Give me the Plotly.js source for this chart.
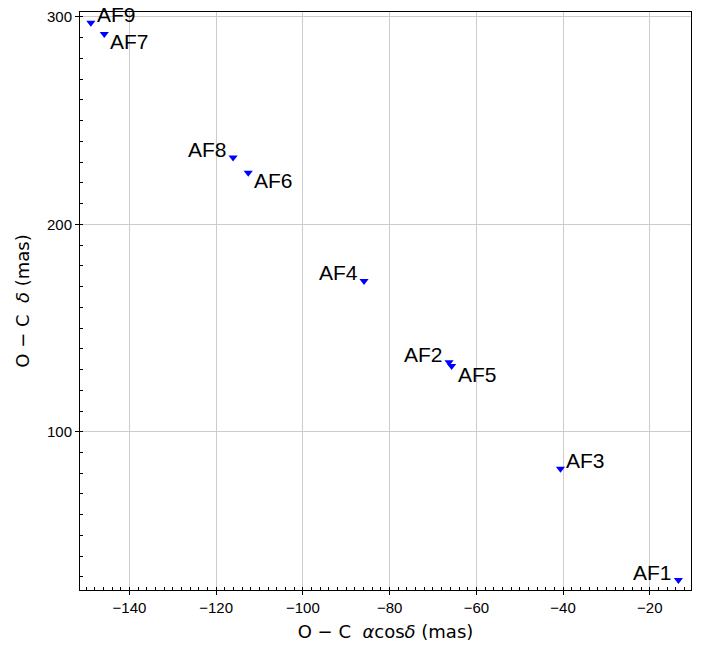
<!DOCTYPE html>
<html>
<head>
<meta charset="utf-8">
<script src="https://cdn.plot.ly/plotly-3.0.1.min.js"></script>
<style>html,body{margin:0;padding:0;background:#fff;}#chart{width:708px;height:650px;}</style>
</head>
<body>
<div id="chart"></div>
<script>
const labels = ["AF1", "AF2", "AF3", "AF4", "AF5", "AF6", "AF7", "AF8", "AF9"];
const raOffset = [-13.4, -66.3, -40.6, -85.9, -65.7, -112.6, -145.8, -116.1, -148.9];
const decOffset = [28.5, 133.5, 82.2, 172.7, 131.7, 224.9, 291.8, 232.3, 297.2];
const labelPos = ["top left", "top left", "top right", "top left", "bottom right", "bottom right", "bottom right", "top left", "top right"];

const trace = {
  x: raOffset,
  y: decOffset,
  mode: "markers",
  type: "scatter",
  marker: {symbol: "triangle-down", size: 8, color: "#0000ff"},
  cliponaxis: false,
  hoverinfo: "x+y"
};

const annotations = labels.map(function (lab, i) {
  const pos = labelPos[i];
  const right = pos.indexOf("right") >= 0;
  const top = pos.indexOf("top") >= 0;
  return {
    x: raOffset[i],
    y: decOffset[i],
    xref: "x",
    yref: "y",
    text: lab,
    showarrow: false,
    xanchor: right ? "left" : "right",
    yanchor: "middle",
    xshift: right ? 4 : -4,
    yshift: top ? 8 : -8,
    font: {family: "Liberation Sans, Arial, sans-serif", size: 21, color: "#000"}
  };
});

const axisCommon = {
  showline: true,
  linecolor: "#000",
  linewidth: 1,
  mirror: true,
  showgrid: true,
  gridcolor: "#cccccc",
  gridwidth: 1,
  zeroline: false,
  ticks: "outside",
  ticklen: 4,
  tickcolor: "#000",
  tickfont: {family: "Liberation Sans, Arial, sans-serif", size: 15, color: "#000"}
};

const layout = {
  width: 708,
  height: 650,
  margin: {l: 80, r: 17, t: 12, b: 60},
  paper_bgcolor: "#fff",
  plot_bgcolor: "#fff",
  showlegend: false,
  annotations: annotations,
  xaxis: Object.assign({}, axisCommon, {
    range: [-151.4, -10.5],
    dtick: 20,
    tick0: 0,
    minor: {ticks: "inside", dtick: 2, tick0: 0, ticklen: 3, tickcolor: "#000", showgrid: false},
    title: {text: "O − C  <i>α</i>cos<i>δ</i> (mas)", font: {family: "DejaVu Sans, sans-serif", size: 18, color: "#000"}, standoff: 10}
  }),
  yaxis: Object.assign({}, axisCommon, {
    range: [23.7, 302.4],
    dtick: 100,
    tick0: 0,
    minor: {ticks: "inside", dtick: 10, tick0: 0, ticklen: 3, tickcolor: "#000", showgrid: false},
    title: {text: "O − C  <i>δ</i> (mas)", font: {family: "DejaVu Sans, sans-serif", size: 18, color: "#000"}, standoff: 12}
  })
};

Plotly.newPlot("chart", [trace], layout, {displayModeBar: false, staticPlot: true});
</script>
</body>
</html>
